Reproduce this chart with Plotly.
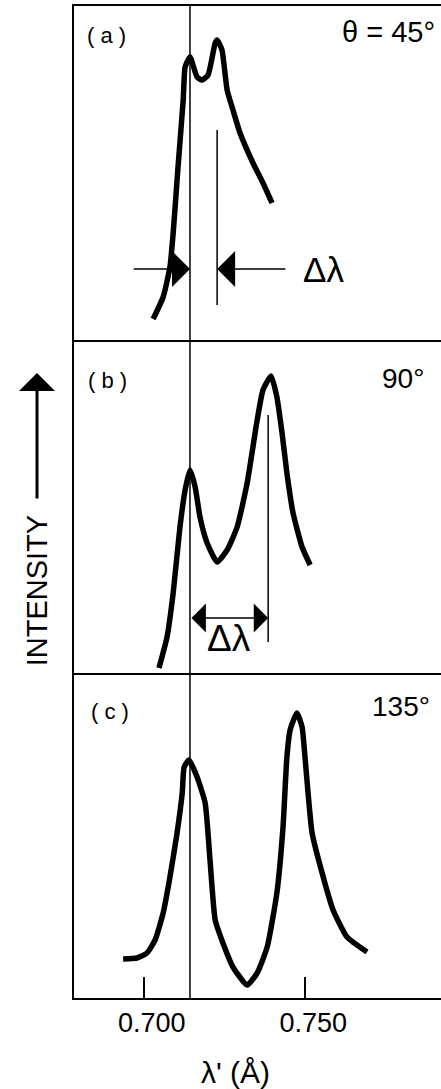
import plotly.graph_objects as go
from plotly.subplots import make_subplots

# Wavelength of the unshifted (primary) line, in angstroms
lambda0 = 0.7143

# (a) theta = 45 deg
a_wavelength = [0.7029, 0.7060, 0.7081, 0.7091, 0.7106, 0.7122, 0.7128, 0.7143, 0.7165, 0.7180,
                0.7199, 0.7221, 0.7227, 0.7242, 0.7258, 0.7276, 0.7298, 0.7338, 0.7369, 0.7397]
a_intensity = [21, 43, 73, 107, 173, 240, 273, 283, 263, 260,
               265, 297, 300, 290, 250, 230, 207, 177, 157, 137]
a_shifted = 0.7227

# (b) theta = 90 deg
b_wavelength = [0.7047, 0.7072, 0.7091, 0.7112, 0.7128, 0.7143, 0.7159, 0.7174, 0.7196, 0.7227, 0.7258,
                0.7289, 0.7320, 0.7351, 0.7369, 0.7394, 0.7412, 0.7428, 0.7443, 0.7462, 0.7490, 0.7515]
b_intensity = [5, 36, 80, 146, 183, 203, 186, 156, 130, 111, 123,
               146, 190, 253, 283, 297, 276, 240, 200, 160, 126, 108]
b_shifted = 0.7385

# (c) theta = 135 deg
c_wavelength = [0.6936, 0.6979, 0.7010, 0.7035, 0.7060, 0.7081, 0.7103, 0.7119, 0.7125, 0.7140, 0.7165,
                0.7190, 0.7205, 0.7221, 0.7245, 0.7276, 0.7320, 0.7351, 0.7382, 0.7412, 0.7431, 0.7443,
                0.7453, 0.7474, 0.7490, 0.7499, 0.7521, 0.7552, 0.7586, 0.7629, 0.7691]
c_intensity = [39, 40, 45, 58, 85, 121, 165, 205, 231, 238, 221,
               195, 138, 78, 55, 31, 13, 25, 51, 105, 171, 241,
               268, 285, 271, 241, 165, 125, 88, 61, 46]

tick_values = [0.700, 0.750]
tick_labels = ["0.700", "0.750"]

FONT = "Liberation Sans"
INK = "black"

fig = make_subplots(rows=3, cols=1, shared_xaxes=True, vertical_spacing=0,
                    row_heights=[334, 333, 325])

for row, (xs, ys) in enumerate([(a_wavelength, a_intensity),
                                 (b_wavelength, b_intensity),
                                 (c_wavelength, c_intensity)], start=1):
    fig.add_trace(go.Scatter(x=xs, y=ys, mode="lines",
                             line=dict(color=INK, width=5.5, shape="spline", smoothing=0.5),
                             hoverinfo="skip", showlegend=False), row=row, col=1)

x_range = [0.6784, 0.7920]
y_ranges = [[0, 334], [0, 333], [0, 325]]
for row in range(1, 4):
    fig.update_xaxes(range=x_range, showline=True, mirror=(row == 1), linecolor=INK, linewidth=2,
                     showgrid=False, zeroline=False, ticks="", showticklabels=False,
                     row=row, col=1)
    fig.update_yaxes(range=y_ranges[row - 1], showline=True, linecolor=INK, linewidth=2,
                     showgrid=False, zeroline=False, ticks="", showticklabels=False,
                     row=row, col=1)

fig.update_xaxes(tickvals=tick_values, ticktext=tick_labels, ticks="inside", ticklen=21,
                 tickwidth=2, tickcolor=INK, showticklabels=True, ticklabelshift=8,
                 tickfont=dict(family=FONT, size=27, color=INK),
                 row=3, col=1)

# Unshifted line position through all three panels
fig.add_shape(type="line", xref="x", yref="paper", x0=lambda0, x1=lambda0, y0=0, y1=1,
              line=dict(color=INK, width=1.5))

# Shifted line markers
fig.add_shape(type="line", xref="x", yref="y", x0=a_shifted, x1=a_shifted, y0=35, y1=210,
              line=dict(color=INK, width=1.5))
fig.add_shape(type="line", xref="x2", yref="y2", x0=b_shifted, x1=b_shifted, y0=31, y1=258,
              line=dict(color=INK, width=1.5))

arrow_a = dict(showarrow=True, arrowhead=1, arrowsize=4, arrowwidth=1.5, arrowcolor=INK, text="")
arrow_b = dict(showarrow=True, arrowhead=1, arrowsize=3.2, arrowwidth=1.5, arrowcolor=INK, text="")

# (a) inward-pointing arrows marking the shift
fig.add_annotation(x=lambda0, y=71, xref="x", yref="y", ax=0.6964, ay=71, axref="x", ayref="y",
                   **arrow_a)
fig.add_annotation(x=a_shifted, y=71, xref="x", yref="y", ax=0.7443, ay=71, axref="x", ayref="y",
                   **arrow_a)
fig.add_annotation(x=0.7555, y=71, xref="x", yref="y", text="Δλ", showarrow=False,
                   xanchor="center", font=dict(family=FONT, size=35, color=INK))

# (b) double-headed arrow spanning the shift
fig.add_annotation(x=b_shifted, y=55, xref="x2", yref="y2", ax=lambda0, ay=55, axref="x2", ayref="y2",
                   arrowside="end+start", **arrow_b)
fig.add_annotation(x=0.7264, y=35, xref="x2", yref="y2", text="Δλ", showarrow=False,
                   xanchor="center", font=dict(family=FONT, size=37, color=INK))

# Panel tags and scattering angles
text_font = dict(family=FONT, color=INK)
for label, xp, yp in [("( a )", 0.0899, 0.970), ("( b )", 0.0926, 0.622), ("( c )", 0.0981, 0.289)]:
    fig.add_annotation(x=xp, y=yp, xref="paper", yref="paper", text=label, showarrow=False,
                       xanchor="center", yanchor="middle", font=dict(size=22, **text_font))
for label, xp, yp, size in [("θ = 45°", 0.858, 0.974, 29), ("90°", 0.896, 0.625, 28),
                            ("135°", 0.891, 0.294, 28)]:
    fig.add_annotation(x=xp, y=yp, xref="paper", yref="paper", text=label, showarrow=False,
                       xanchor="center", yanchor="middle", font=dict(size=size, **text_font))

# Wavelength axis title
fig.add_annotation(x=0.439, y=-0.0746, xref="paper", yref="paper", text="λ' (Å)",
                   showarrow=False, xanchor="center", yanchor="middle",
                   font=dict(size=30, **text_font))

# Vertical intensity label with upward arrow
fig.add_annotation(x=-0.1008, y=0.410, xref="paper", yref="paper", text="INTENSITY",
                   textangle=-90, showarrow=False, xanchor="center", yanchor="middle",
                   font=dict(size=29, **text_font))
fig.add_annotation(x=-0.1008, y=0.630, xref="paper", yref="paper", ax=0, ay=127,
                   axref="pixel", ayref="pixel", text="", showarrow=True, arrowhead=1,
                   arrowsize=2, arrowwidth=3, arrowcolor=INK)

fig.update_layout(width=441, height=1089, margin=dict(l=74, r=0, t=6, b=91),
                  plot_bgcolor="white", paper_bgcolor="white", showlegend=False)

fig.write_html("out.html")
